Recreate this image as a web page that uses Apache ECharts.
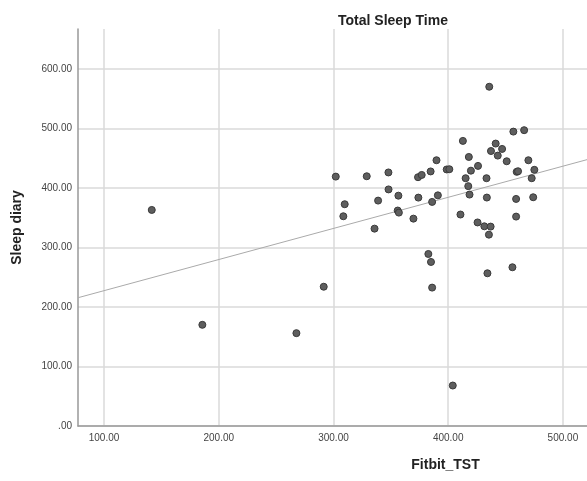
<!DOCTYPE html>
<html>
<head>
<meta charset="utf-8">
<script src="https://cdn.jsdelivr.net/npm/echarts@6/dist/echarts.min.js"></script>
<style>html,body{margin:0;padding:0;background:#fff}#c{width:587px;height:481px}</style>
</head>
<body>
<div id="c"></div>
<script>
// Fitbit total sleep time (x) vs sleep diary (y), minutes
const fitbitTST = [141.6,185.7,267.7,291.5,404,382.7,385,386,434.2,309.8,308.6,338.9,335.8,356,357,369.7,386,374,410.7,425.6,431.5,435.5,435.8,412.8,437.3,418,426,419.8,389.8,302,329,347.9,373.7,376.9,384.7,398.7,401,415.2,433.4,417.5,348,356.6,391,418.6,433.7,456.8,466.2,441.4,447,443.2,451,469.9,459.7,460.9,475.1,472.8,459.2,474.1,459.2,437,456];
const sleepDiary = [363,170,156,234,68,289,275.6,232.5,256.6,372.6,352.4,378.7,331.6,362,358.5,348.4,376.5,383.7,355.3,342,335.5,321.5,570,479,462,452,437,429,446.5,419,419.6,426,418,421.8,427.7,431,431.4,416.3,416.3,403,397.5,387,387.5,388.8,383.8,494.6,497,474.5,465.5,454.3,444.8,446.5,427,428,430.4,416.3,381.5,384.3,351.8,335,266.7];
// Fit line endpoints
const fitX = [77.3, 521];
const fitY = [215.5, 447.5];
const xTicks = [100,200,300,400,500];
const yTicks = [0,100,200,300,400,500,600];
const xRange = [77.3, 521];
const yRange = [0, 667];

const points = fitbitTST.map((x,i)=>[x, sleepDiary[i]]);
const fmt = v => v === 0 ? '.00' : v.toFixed(2);
const FF = 'Liberation Sans, Arial, sans-serif';
const chart = echarts.init(document.getElementById('c'));
chart.setOption({
  backgroundColor:'#fff',
  animation:false,
  title:{text:'Total Sleep Time', left:333, top:9,
    textStyle:{fontSize:14, fontWeight:'bold', color:'#222', fontFamily:FF}},
  grid:{left:78, right:0, top:29, bottom:55},
  xAxis:{type:'value', min:xRange[0], max:xRange[1],
    name:'Fitbit_TST', nameLocation:'middle', nameGap:32,
    nameTextStyle:{fontSize:14, fontWeight:'bold', color:'#222', padding:[0,0,0,226], fontFamily:FF},
    axisLine:{show:true, lineStyle:{color:'#999', width:1.5}},
    axisTick:{show:false, customValues:xTicks},
    axisLabel:{customValues:xTicks, formatter:fmt, fontSize:10, color:'#444', margin:7, fontFamily:FF},
    splitLine:{show:true, lineStyle:{color:'#dadada', width:1.5}}},
  yAxis:{type:'value', min:yRange[0], max:yRange[1],
    name:'Sleep diary', nameLocation:'middle', nameGap:54,
    nameTextStyle:{fontSize:14, fontWeight:'bold', color:'#222', fontFamily:FF},
    axisLine:{show:true, lineStyle:{color:'#999', width:1.5}},
    axisTick:{show:false, customValues:yTicks},
    axisLabel:{customValues:yTicks, formatter:fmt, fontSize:10, color:'#444', margin:6, fontFamily:FF},
    splitLine:{show:true, lineStyle:{color:'#dadada', width:1.5}}},
  series:[
    {type:'line', data:fitX.map((x,i)=>[x,fitY[i]]), symbol:'none', silent:true,
     lineStyle:{color:'#aaa', width:1}, z:1},
    {type:'scatter', data:points, symbolSize:7,
     itemStyle:{color:'#5e5e5e', borderColor:'#3a3a3a', borderWidth:1, opacity:1}, z:3}
  ]
});
</script>
</body>
</html>
